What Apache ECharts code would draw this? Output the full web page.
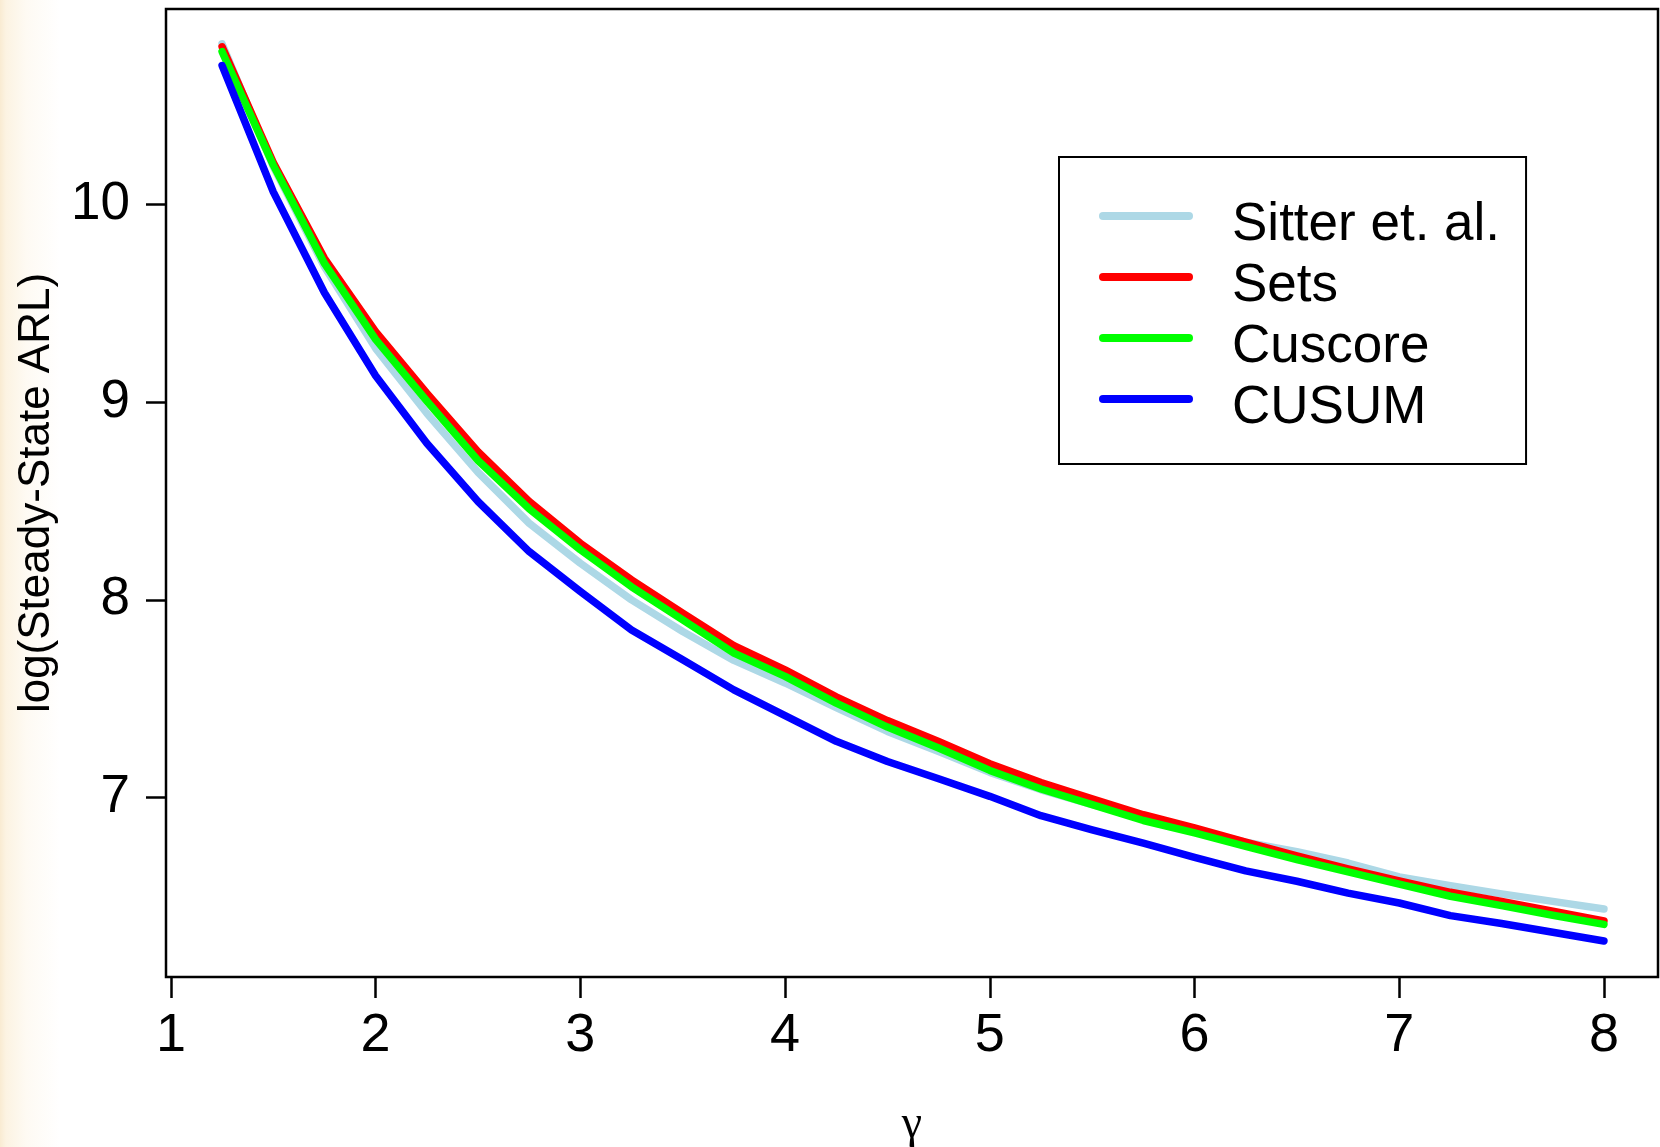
<!DOCTYPE html>
<html>
<head>
<meta charset="utf-8">
<title>log(Steady-State ARL) vs gamma</title>
<script src="https://cdn.jsdelivr.net/npm/echarts@6/dist/echarts.min.js"></script>
<style>
  html, body { margin: 0; padding: 0; }
  body {
    width: 1660px; height: 1147px;
    background: linear-gradient(to right, #f9ebd2 0px, #fcf3e2 6px, #fefaf3 26px, #ffffff 60px);
  }
  #chart { width: 1660px; height: 1147px; }
</style>
</head>
<body>
<div id="chart"></div>
<script>
// gamma grid (x)
const gammaValues = [1.25, 1.5, 1.75, 2, 2.25, 2.5, 2.75, 3, 3.25, 3.5, 3.75, 4, 4.25, 4.5,
  4.75, 5, 5.25, 5.5, 5.75, 6, 6.25, 6.5, 6.75, 7, 7.25, 7.5, 7.75, 8];

// log(steady-state ARL) per method
const sitterValues = [10.81, 10.19, 9.683, 9.271, 8.943, 8.645, 8.387, 8.185, 8.0, 7.84, 7.694, 7.58, 7.455, 7.335,
  7.234, 7.128, 7.04, 6.965, 6.898, 6.838, 6.775, 6.727, 6.67, 6.60, 6.556, 6.514, 6.476, 6.438];
const setsValues = [10.795, 10.21, 9.726, 9.355, 9.044, 8.749, 8.497, 8.286, 8.101, 7.933, 7.769, 7.646, 7.51, 7.39,
  7.284, 7.172, 7.077, 6.995, 6.914, 6.847, 6.776, 6.706, 6.64, 6.58, 6.522, 6.476, 6.426, 6.377];
const cuscoreValues = [10.77, 10.197, 9.70, 9.316, 9.005, 8.704, 8.46, 8.253, 8.066, 7.899, 7.731, 7.613, 7.478, 7.357,
  7.251, 7.138, 7.044, 6.965, 6.885, 6.822, 6.754, 6.687, 6.625, 6.563, 6.502, 6.455, 6.406, 6.36];
const cusumValues = [10.70, 10.062, 9.552, 9.133, 8.791, 8.497, 8.244, 8.042, 7.848, 7.697, 7.545, 7.415, 7.285, 7.183,
  7.096, 7.007, 6.909, 6.838, 6.771, 6.699, 6.63, 6.578, 6.518, 6.468, 6.404, 6.364, 6.32, 6.276];

const seriesNames = ['Sitter et. al.', 'Sets', 'Cuscore', 'CUSUM'];
const seriesColors = ['#add8e6', '#ff0000', '#00ff00', '#0000ff'];

// tick labels
const xTicks = [1, 2, 3, 4, 5, 6, 7, 8];
const yTicks = [7, 8, 9, 10];

const FONT = '"Liberation Sans", Arial, Helvetica, sans-serif';

const allValues = [sitterValues, setsValues, cuscoreValues, cusumValues];
const series = allValues.map((vals, i) => ({
  name: seriesNames[i],
  type: 'line',
  data: gammaValues.map((g, j) => [g, vals[j]]),
  symbol: 'none',
  showSymbol: false,
  color: seriesColors[i],
  lineStyle: { width: 7.5, color: seriesColors[i], cap: 'round', join: 'round' },
  z: 2 + i,
}));

const myChart = echarts.init(document.getElementById('chart'), null, { renderer: 'canvas' });

const option = {
  animation: false,
  backgroundColor: 'transparent',
  grid: {
    left: 166, right: 2, top: 9, bottom: 170,
    outerBoundsMode: 'none',
    show: true,
    borderColor: '#000',
    borderWidth: 2.5,
    backgroundColor: '#fff',
  },
  legend: {
    orient: 'vertical',
    left: 1059,
    top: 157,
    data: seriesNames,
    icon: 'path://M4 0H90A4 4 0 0 1 90 8H4A4 4 0 0 1 4 0Z',
    itemWidth: 94,
    itemHeight: 8,
    itemGap: 8,
    padding: [42, 26, 29, 40],
    backgroundColor: '#fff',
    borderColor: '#000',
    borderWidth: 2,
    borderRadius: 0,
    // gap token pushes text right, tall line + bottom align drops the text a little
    formatter: (name) => '{gap| }{t|' + name + '}',
    textStyle: {
      fontFamily: FONT,
      color: '#000',
      rich: {
        gap: { width: 34, fontSize: 1, lineHeight: 72 },
        t: { fontFamily: FONT, fontSize: 53, lineHeight: 53, color: '#000', verticalAlign: 'bottom' },
      },
    },
  },
  xAxis: {
    type: 'value',
    min: 0.976,
    max: 8.264,
    name: 'γ',
    nameLocation: 'middle',
    nameGap: 125,
    nameTextStyle: { fontFamily: '"Liberation Serif", "DejaVu Serif", serif', fontSize: 46, color: '#000' },
    axisLine: { show: false },
    splitLine: { show: false },
    axisTick: {
      show: true, inside: false, length: 21,
      customValues: xTicks,
      lineStyle: { color: '#000', width: 2.5 },
    },
    axisLabel: {
      customValues: xTicks,
      margin: 32,
      fontFamily: FONT, fontSize: 54, color: '#000',
      showMinLabel: true, showMaxLabel: true,
    },
  },
  yAxis: {
    type: 'value',
    min: 6.094,
    max: 10.986,
    name: 'log(Steady-State ARL)',
    nameLocation: 'middle',
    nameGap: 107,
    nameRotate: 90,
    nameTextStyle: { fontFamily: FONT, fontSize: 44, color: '#000' },
    axisLine: { show: false },
    splitLine: { show: false },
    axisTick: {
      show: true, inside: false, length: 20,
      customValues: yTicks,
      lineStyle: { color: '#000', width: 2.5 },
    },
    axisLabel: {
      customValues: yTicks,
      margin: 36,
      fontFamily: FONT, fontSize: 53, color: '#000',
    },
  },
  series: series,
};

myChart.setOption(option);
</script>
</body>
</html>
